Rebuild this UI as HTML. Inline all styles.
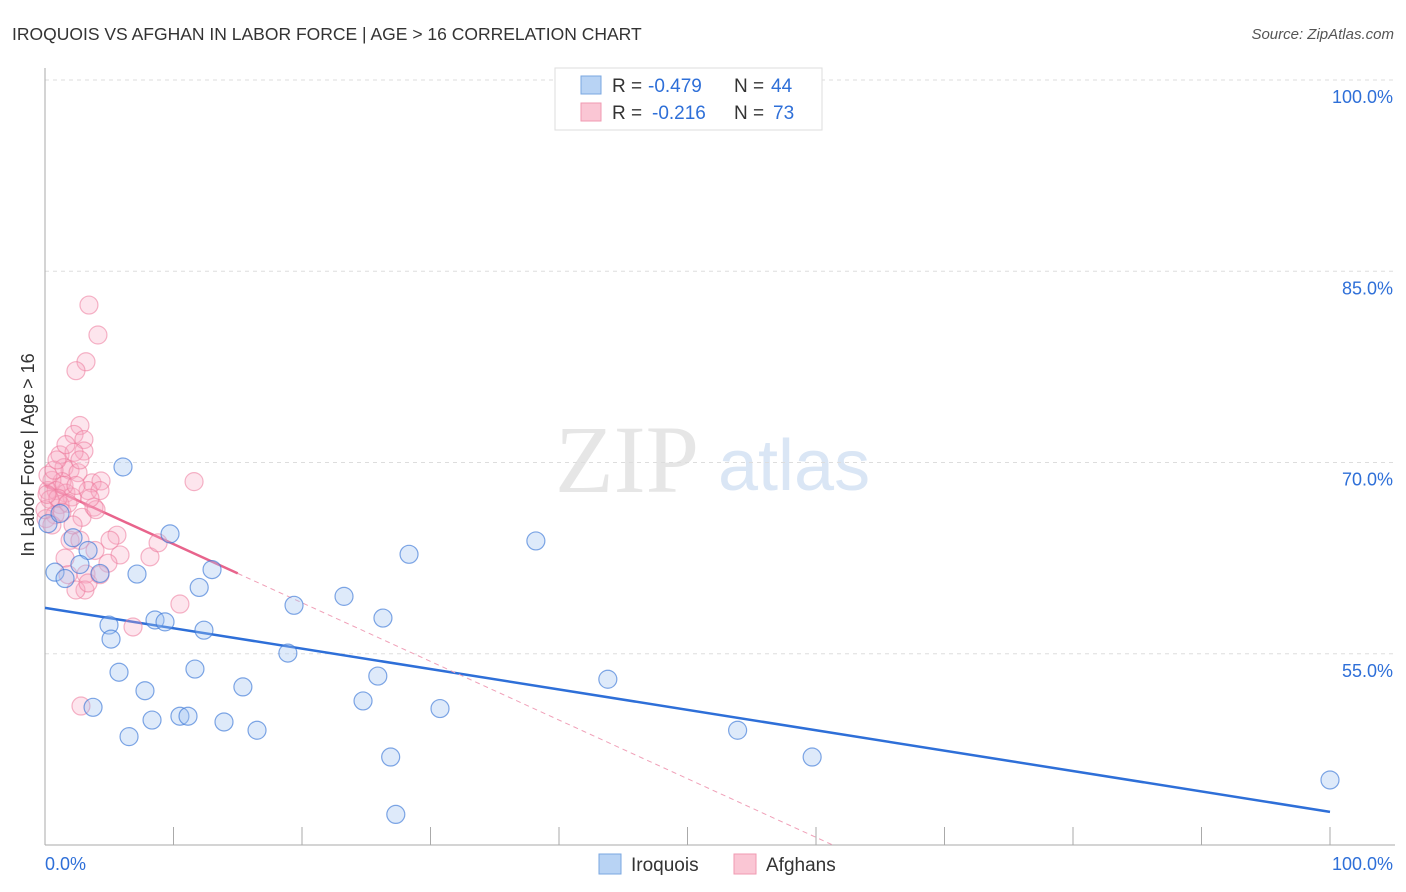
<!DOCTYPE html>
<html><head><meta charset="utf-8"><style>
body{margin:0;background:#fff;font-family:"Liberation Sans",sans-serif;}
svg{display:block}
</style></head><body>
<svg id="chart" width="1406" height="892" xmlns="http://www.w3.org/2000/svg">
<text x="12" y="40" font-size="17.5" fill="#333">IROQUOIS VS AFGHAN IN LABOR FORCE | AGE &gt; 16 CORRELATION CHART</text>
<text x="1394" y="39" font-size="15" fill="#555" font-style="italic" text-anchor="end">Source: ZipAtlas.com</text>
<text x="555" y="492" font-size="96" fill="#e6e6e6" font-family="Liberation Serif,serif">ZIP</text>
<text x="718" y="490" font-size="72" fill="#dae6f5">atlas</text>
<g id="grid"></g><g id="axes"></g><g id="lines"></g><g id="pts"></g>
<text x="34" y="455" font-size="18" fill="#333" text-anchor="middle" transform="rotate(-90 34 455)">In Labor Force | Age &gt; 16</text>
<g>
<rect x="555" y="68" width="267" height="62" fill="#fff" stroke="#ddd"/>
<rect x="581" y="76" width="20" height="18" fill="#b8d3f4" stroke="#7aa7e0"/>
<rect x="581" y="103" width="20" height="18" fill="#fac6d4" stroke="#f09ab2"/>
<text x="612" y="92" font-size="19" fill="#333">R =</text>
<text x="648" y="92" font-size="19" fill="#2e6fd8">-0.479</text>
<text x="734" y="92" font-size="19" fill="#333">N =</text>
<text x="771" y="92" font-size="19" fill="#2e6fd8">44</text>
<text x="612" y="119" font-size="19" fill="#333">R =</text>
<text x="652" y="119" font-size="19" fill="#2e6fd8">-0.216</text>
<text x="734" y="119" font-size="19" fill="#333">N =</text>
<text x="773" y="119" font-size="19" fill="#2e6fd8">73</text>
</g>
<g>
<rect x="599" y="854" width="22" height="20" fill="#b8d3f4" stroke="#7aa7e0"/>
<text x="631" y="871" font-size="19" fill="#333">Iroquois</text>
<rect x="734" y="854" width="22" height="20" fill="#fac6d4" stroke="#f09ab2"/>
<text x="766" y="871" font-size="19" fill="#333">Afghans</text>
</g>
</svg>
<script>
const yTicks=[100,85,70,55];
const xTickLabels=["0.0%","100.0%"];
const iroX=[6.07,9.73,7.16,4.28,3.35,2.18,0.78,1.56,2.72,13.0,12.0,8.56,9.34,4.98,5.14,12.37,19.38,23.27,26.3,28.33,38.2,18.9,5.76,11.67,7.78,15.4,25.9,24.75,3.74,8.33,10.5,11.13,13.93,16.5,6.54,30.74,43.8,53.9,59.7,26.9,27.3,100,0.23,1.17];
const iroY=[69.65,64.4,61.25,61.3,63.1,64.1,61.4,60.9,62.0,61.6,60.2,57.65,57.5,57.25,56.15,56.85,58.8,59.5,57.8,62.8,63.85,55.05,53.55,53.8,52.1,52.4,53.25,51.3,50.8,49.8,50.1,50.1,49.65,49.0,48.5,50.7,53.0,49.0,46.9,46.9,42.4,45.1,65.2,66.0];
const afgX=[3.42,4.12,3.19,2.41,2.72,2.26,3.03,3.03,1.17,2.26,1.48,1.95,2.57,3.66,4.36,1.32,0.54,0.23,0.86,1.63,2.1,3.35,4.28,1.17,0.39,0.78,0.08,2.88,3.81,3.97,0.54,1.95,2.72,5.6,5.84,3.89,4.9,8.17,8.8,1.56,1.79,3.19,3.11,2.41,3.35,11.6,6.85,10.5,2.8,0.23,0.7,1.48,2.41,2.72,0,1.0,1.79,3.5,0.16,1.32,2.18,4.28,5.06,0.93,1.63];
const afgY=[82.35,80.0,77.9,77.2,72.9,72.2,71.8,70.9,70.6,70.8,69.6,69.4,69.2,68.4,68.55,68.5,68.6,67.8,67.8,67.6,67.3,67.8,67.8,66.7,67.1,65.9,65.6,65.7,66.5,66.3,65.1,63.9,63.9,64.3,62.75,63.1,62.1,62.6,63.7,62.5,61.2,61.25,60.0,60.0,60.55,68.5,57.1,58.9,50.9,69.0,69.4,68.2,68.2,70.2,66.3,67.2,66.8,67.2,67.5,66.1,65.1,61.2,63.9,70.2,71.4];
const iroLine=[58.6,42.6];
const afgLine=[68.2,-0.46];
const X=v=>45+v*12.85, Y=v=>80+(100-v)*12.75;
const NS="http://www.w3.org/2000/svg";
function mk(p,t,a){const e=document.createElementNS(NS,t);for(const k in a)e.setAttribute(k,a[k]);document.getElementById(p).appendChild(e);return e;}
yTicks.forEach(t=>{
 const g=mk('grid','line',{x1:45,x2:1395,y1:Y(t),y2:Y(t),stroke:'#ddd','stroke-dasharray':'4,4'});
 
 
 const l=mk('axes','text',{x:1393,y:Y(t)+23,'font-size':18,fill:'#2e6fd8','text-anchor':'end'});l.textContent=t.toFixed(1)+'%';
 
 
});
mk('axes','line',{x1:45,x2:45,y1:68,y2:845,stroke:'#aaa'});
mk('axes','line',{x1:45,x2:1395,y1:845,y2:845,stroke:'#aaa'});
for(let i=1;i<=10;i++){mk('axes','line',{x1:X(i*10),x2:X(i*10),y1:827,y2:845,stroke:'#aaa'});}
const a0=mk('axes','text',{x:45,y:870,'font-size':18,fill:'#2e6fd8'});a0.textContent=xTickLabels[0];


const a1=mk('axes','text',{x:1393,y:870,'font-size':18,fill:'#2e6fd8','text-anchor':'end'});a1.textContent=xTickLabels[1];


const bl=mk('lines','line',{x1:X(0),y1:Y(iroLine[0]),x2:X(100),y2:Y(iroLine[1]),stroke:'#2e6fd8','stroke-width':2.5});


const pf=x=>afgLine[0]+afgLine[1]*x;
const pe=(40-afgLine[0])/afgLine[1];
const pd=mk('lines','line',{x1:X(15),y1:Y(pf(15)),x2:X(pe),y2:Y(40),stroke:'#f0a0b8','stroke-width':1,'stroke-dasharray':'5,4'});


const pl=mk('lines','line',{x1:X(0),y1:Y(pf(0)),x2:X(15),y2:Y(pf(15)),stroke:'#e8648c','stroke-width':2.5});


afgX.forEach((x,i)=>{const c=mk('pts','circle',{cx:X(x),cy:Y(afgY[i]),r:9,fill:'rgba(248,170,195,0.3)',stroke:'rgba(236,120,155,0.55)','stroke-width':1.2});
 
 });
iroX.forEach((x,i)=>{const c=mk('pts','circle',{cx:X(x),cy:Y(iroY[i]),r:9,fill:'rgba(160,195,240,0.35)',stroke:'rgba(60,120,215,0.65)','stroke-width':1.2});
 
 });
</script>
</body></html>
